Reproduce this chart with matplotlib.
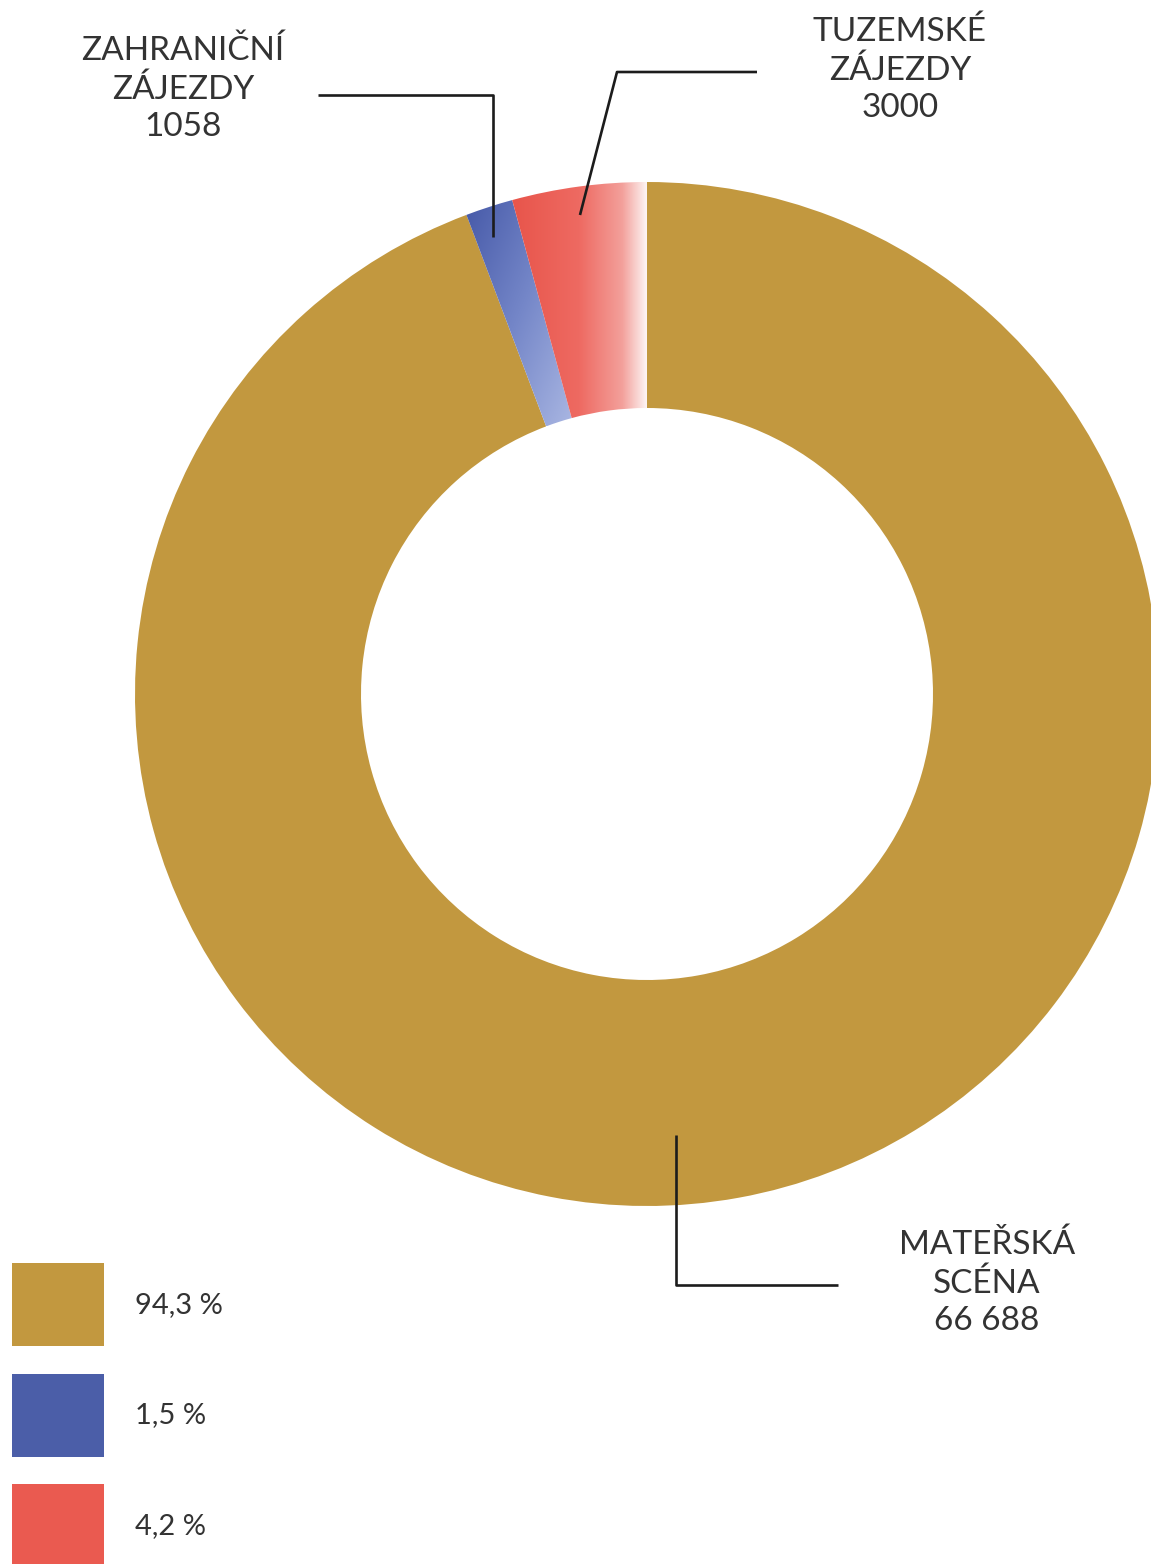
import numpy as np
import matplotlib
matplotlib.use('Agg')
import matplotlib.pyplot as plt
from matplotlib.colors import LinearSegmentedColormap
from matplotlib.patches import Rectangle

# data
labels = ['MATEŘSKÁ\nSCÉNA', 'ZAHRANIČNÍ\nZÁJEZDY', 'TUZEMSKÉ\nZÁJEZDY']
values = [66688, 1058, 3000]
value_text = ['66 688', '1058', '3000']
shares = ['94,3 %', '1,5 %', '4,2 %']
colors = ['#C2983F', '#4B5EA8', '#EA5A50']

W, H = 1151, 1564
plt.rcParams['font.family'] = ['Lato', 'DejaVu Sans']

fig = plt.figure(figsize=(W / 100, H / 100), dpi=100)
ax = fig.add_axes([0, 0, 1, 1])


def py(y):
    # picture row -> data y
    return H - y


cx, cy, R, ring = 647, py(694), 512, 226

wedges, _ = ax.pie(values, colors=colors, startangle=90, counterclock=False,
                   center=(cx, cy), radius=R,
                   wedgeprops=dict(width=ring, linewidth=0))

ax.set_xlim(0, W)
ax.set_ylim(0, H)
ax.set_aspect('equal')
ax.axis('off')

# gradients on the two small slices
grad_red = LinearSegmentedColormap.from_list(
    'r', [(0, '#E8554B'), (0.5, '#EE6A62'), (0.82, '#F3A09B'), (1, '#FDF4F3')])
grad_blue = LinearSegmentedColormap.from_list(
    'b', [(0, '#4659A8'), (0.5, '#7486C8'), (1, '#A9B6E2')])


def fill_gradient(wedge, cmap, direction):
    bb = wedge.get_path().get_extents(wedge.get_patch_transform())
    x0, y0, x1, y1 = bb.x0, bb.y0, bb.x1, bb.y1
    xs = np.linspace(0, 1, 200)
    ys = np.linspace(0, 1, 200)
    X, Y = np.meshgrid(xs, ys)
    dx, dy = direction
    Z = X * dx + (1 - Y) * dy
    Z = (Z - Z.min()) / (Z.max() - Z.min())
    wedge.set_facecolor('none')
    im = ax.imshow(Z, cmap=cmap, extent=(x0, x1, y0, y1), origin='lower',
                   aspect='auto', interpolation='bilinear', zorder=1)
    im.set_clip_path(wedge)


fill_gradient(wedges[1], grad_blue, (1.0, 0.9))
fill_gradient(wedges[2], grad_red, (1.0, 0.0))
ax.set_xlim(0, W)
ax.set_ylim(0, H)

# leader lines
line_kw = dict(color='#1c1c1c', lw=1.9, solid_capstyle='butt', zorder=3)
ax.plot([318, 493, 493], [py(95), py(95), py(237)], **line_kw)
ax.plot([757, 617, 580], [py(72), py(72), py(215)], **line_kw)
ax.plot([676, 676, 838], [py(1135), py(1285), py(1285)], **line_kw)

# slice labels
txt_kw = dict(ha='center', va='center', fontsize=24, color='#333333',
              linespacing=1.32, fontweight='normal')
ax.text(183, py(89), labels[1] + '\n' + value_text[1], **txt_kw)
ax.text(900, py(70), labels[2] + '\n' + value_text[2], **txt_kw)
ax.text(987, py(1283), labels[0] + '\n' + value_text[0], **txt_kw)

# legend
for i, (c, s) in enumerate(zip(colors, shares)):
    top = 1263 + i * 110.5
    ax.add_patch(Rectangle((12, py(top + 83)), 92, 83, facecolor=c,
                           edgecolor='none', zorder=3))
    ax.text(135, py(top + 42), s, ha='left', va='center', fontsize=21,
            color='#333333', fontweight='normal')

fig.savefig('out.png', dpi=100, facecolor='white')
